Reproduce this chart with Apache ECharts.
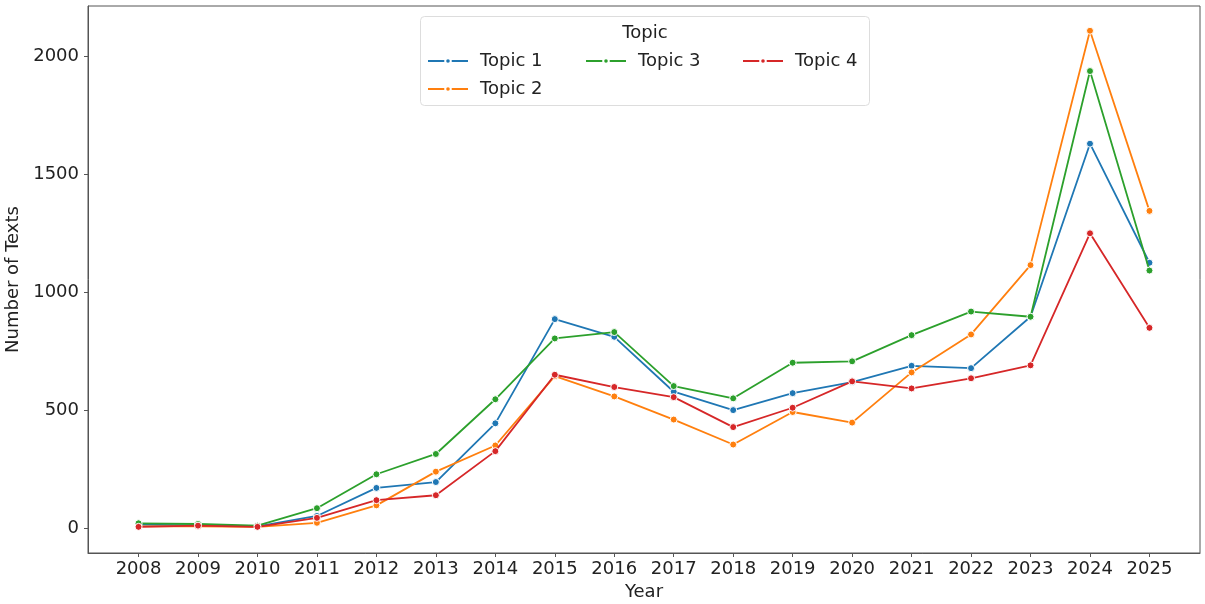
<!DOCTYPE html>
<html><head><meta charset="utf-8">
<script src="https://cdn.jsdelivr.net/npm/echarts@6/dist/echarts.min.js"></script>
<style>html,body{margin:0;padding:0;background:#fff}#c{width:1205px;height:604px}</style>
</head><body><div id="c"></div>
<script>
const years = [2008,2009,2010,2011,2012,2013,2014,2015,2016,2017,2018,2019,2020,2021,2022,2023,2024,2025];
const topic1 = [15,12,8,52,171,196,445,887,812,579,501,573,620,689,679,897,1631,1126];
const topic2 = [8,8,6,23,97,240,351,645,559,461,355,493,448,661,822,1116,2110,1346];
const topic3 = [21,18,11,85,229,315,547,805,832,603,551,702,708,819,919,897,1939,1093];
const topic4 = [6,11,6,44,119,140,327,651,599,556,429,511,623,593,636,691,1251,850];
const yTicks = [0,500,1000,1500,2000];
const seriesNames = ['Topic 1','Topic 2','Topic 3','Topic 4'];
const colors = ['#1f77b4','#ff7f0e','#2ca02c','#d62728'];
const allSeries = [topic1, topic2, topic3, topic4];

const font = 'DejaVu Sans';
const chart = echarts.init(document.getElementById('c'), null, {renderer:'canvas'});

function mkSeries(i){
  return {
    name: seriesNames[i], type:'line',
    data: years.map((y,k)=>[y, allSeries[i][k]]),
    symbol:'circle', symbolSize:7, showSymbol:true,
    lineStyle:{width:1.8, color:colors[i]},
    itemStyle:{color:colors[i], borderColor:'#fff', borderWidth:1},
    emphasis:{disabled:true}, animation:false, z: 2+i
  };
}
const legendPos = [
  {left:427, top:52},
  {left:427, top:80},
  {left:585, top:52},
  {left:742, top:52}
];
const legends = seriesNames.map((n,i)=>({
  data:[n], left:legendPos[i].left, top:legendPos[i].top, orient:'horizontal',
  itemWidth:40, itemHeight:7, itemGap:10, padding:0, z:5,
  textStyle:{fontFamily:font, fontSize:18, color:'#222', padding:[0,0,0,7]},
  selectedMode:false
}));

chart.setOption({
  animation:false,
  color: colors,
  grid:{left:88, right:5, top:6, bottom:51, show:true, borderColor:'#555', borderWidth:1,
        backgroundColor:'transparent', containLabel:false, outerBoundsMode:'none'},
  legend: legends,
  graphic:[
    {type:'rect', shape:{x:420.5, y:16.5, width:449, height:89, r:4}, style:{fill:'rgba(255,255,255,0.8)', stroke:'#ddd', lineWidth:1}, z:1},
    {type:'text', x:645, y:33, style:{text:'Topic', font:'18px "DejaVu Sans"', fill:'#222', align:'center', verticalAlign:'middle'}, z:5}
  ],
  xAxis:{
    type:'value', min:2007.15, max:2025.85,
    name:'Year', nameLocation:'middle', nameGap:29,
    nameTextStyle:{fontFamily:font, fontSize:18, color:'#222'},
    axisLine:{show:true, onZero:false, lineStyle:{color:'#555'}},
    axisTick:{show:true, length:4, lineStyle:{color:'#555'}, customValues: years},
    axisLabel:{fontFamily:font, fontSize:18, color:'#222', margin:7, customValues: years, formatter: v=>String(v)},
    splitLine:{show:false}
  },
  yAxis:{
    type:'value', min:-105, max:2215,
    name:'Number of Texts', nameLocation:'middle', nameGap:58, nameRotate:90,
    nameTextStyle:{fontFamily:font, fontSize:18, color:'#222'},
    axisLine:{show:true, onZero:false, lineStyle:{color:'#555'}},
    axisTick:{show:true, length:4, lineStyle:{color:'#555'}, customValues: yTicks},
    axisLabel:{fontFamily:font, fontSize:18, color:'#222', margin:9, customValues: yTicks, formatter: v=>String(v)},
    splitLine:{show:false}
  },
  series: [0,1,2,3].map(mkSeries)
});
</script></body></html>
